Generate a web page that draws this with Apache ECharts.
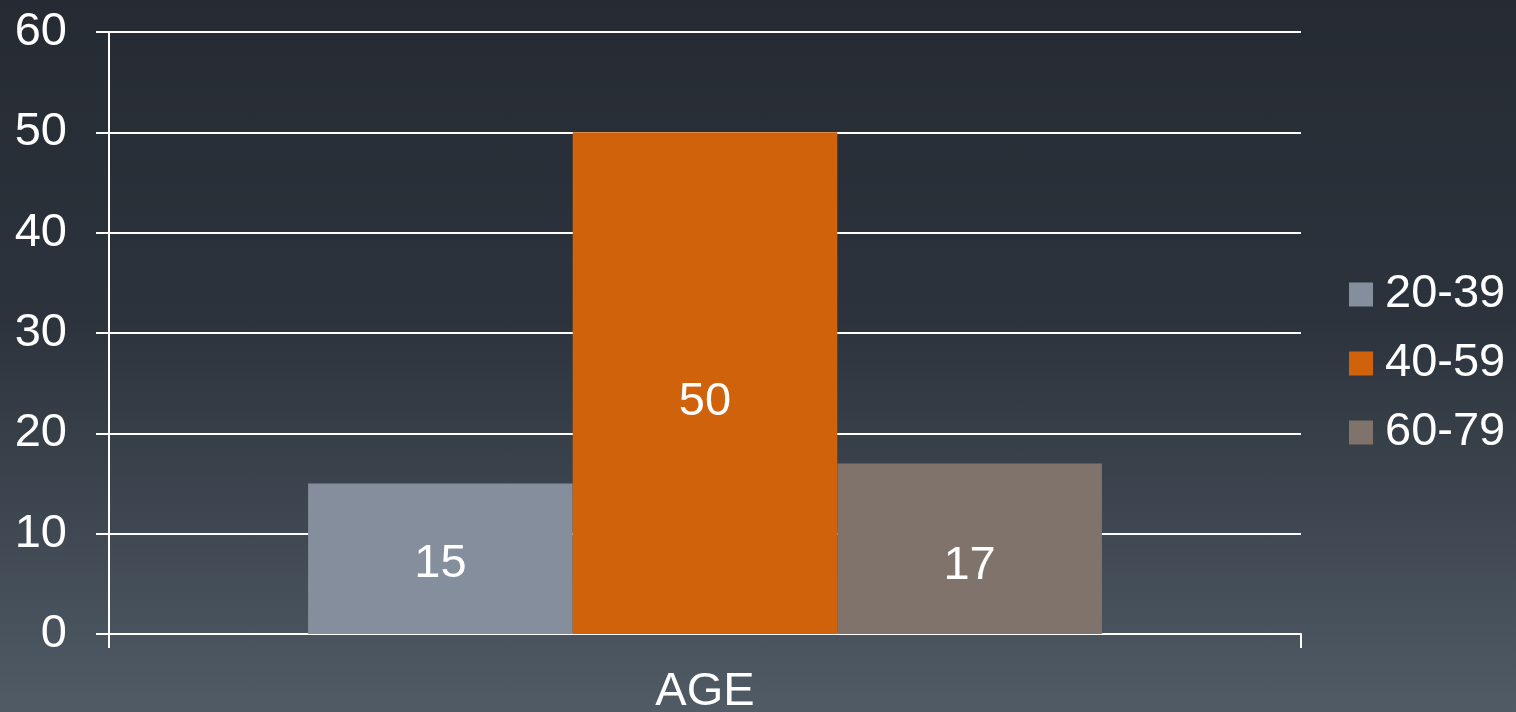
<!DOCTYPE html>
<html>
<head>
<meta charset="utf-8">
<script src="https://cdn.jsdelivr.net/npm/echarts@6/dist/echarts.min.js"></script>
<style>
  html, body { margin: 0; padding: 0; width: 1516px; height: 712px; overflow: hidden; }
  body { background: linear-gradient(to bottom, #262b33 0%, #2c333c 45%, #505b66 100%); }
  #chart { width: 1516px; height: 712px; }
</style>
</head>
<body>
<div id="chart"></div>
<script>
// Data
const categories = ['AGE'];
const seriesNames = ['20-39', '40-59', '60-79'];
const age20to39 = [15];
const age40to59 = [50];
const age60to79 = [17];
const yTicks = { min: 0, max: 60, interval: 10 };

const colors = ['#858e9c', '#d0620c', '#80736c'];
const font = '"Liberation Sans", Arial, sans-serif';
const fontSize = 47;

function barSeries(name, data, color, offsetY) {
  return {
    name,
    type: 'bar',
    data,
    barGap: '0%',
    barCategoryGap: '33.4%',
    itemStyle: { color },
    label: {
      show: true,
      position: 'inside',
      offset: [0, offsetY],
      color: '#ffffff',
      fontFamily: font,
      fontSize,
    },
  };
}

const chart = echarts.init(document.getElementById('chart'), null, { renderer: 'canvas' });
chart.setOption({
  backgroundColor: 'transparent',
  animation: false,
  textStyle: { fontFamily: font },
  grid: { left: 109, right: 215, top: 32, bottom: 78, outerBoundsMode: 'none', containLabel: false },
  legend: {
    orient: 'vertical',
    left: 1349,
    top: 271,
    padding: 0,
    itemWidth: 24,
    itemHeight: 24,
    itemGap: 22,
    icon: 'rect',
    textStyle: {
      color: '#ffffff', fontSize, fontFamily: font,
      lineHeight: 46, padding: [0, 0, 0, 7],
    },
    data: seriesNames,
  },
  xAxis: {
    type: 'category',
    data: categories,
    axisLine: { show: true, lineStyle: { color: '#ffffff', width: 2 } },
    axisTick: { show: true, length: 14, lineStyle: { color: '#ffffff', width: 2 } },
    axisLabel: { color: '#ffffff', fontSize, fontFamily: font, margin: 35 },
    splitLine: { show: false },
  },
  yAxis: {
    type: 'value',
    min: yTicks.min,
    max: yTicks.max,
    interval: yTicks.interval,
    axisLine: { show: true, lineStyle: { color: '#ffffff', width: 2 } },
    axisTick: { show: true, length: 13, lineStyle: { color: '#ffffff', width: 2 } },
    axisLabel: { color: '#ffffff', fontSize, fontFamily: font, margin: 42 },
    splitLine: { show: true, lineStyle: { color: '#ffffff', width: 2 } },
  },
  series: [
    barSeries(seriesNames[0], age20to39, colors[0], 5),
    barSeries(seriesNames[1], age40to59, colors[1], 19),
    barSeries(seriesNames[2], age60to79, colors[2], 17),
  ],
});
</script>
</body>
</html>
